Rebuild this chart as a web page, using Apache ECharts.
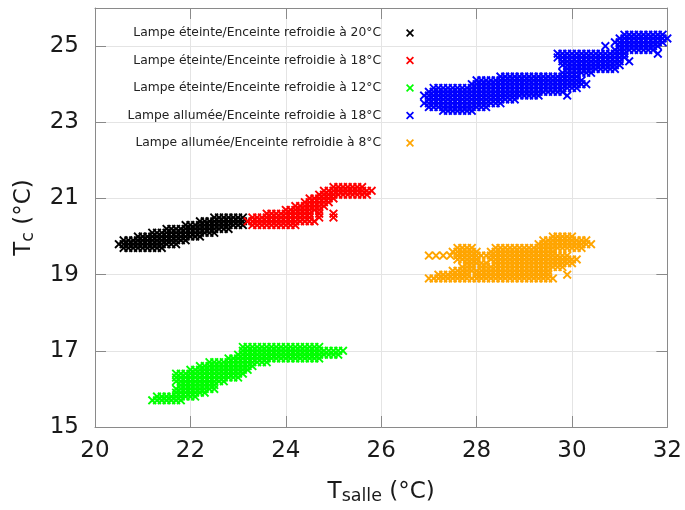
<!DOCTYPE html>
<html>
<head>
<meta charset="utf-8">
<script src="https://cdn.jsdelivr.net/npm/echarts@6/dist/echarts.min.js"></script>
<style>html,body{margin:0;padding:0;background:#fff}#c{width:685px;height:510px}</style>
</head>
<body>
<div id="c"></div>
<script>
// ---------- data ----------
const seriesNames = [
  'Lampe éteinte/Enceinte refroidie à 20°C',
  'Lampe éteinte/Enceinte refroidie à 18°C',
  'Lampe éteinte/Enceinte refroidie à 12°C',
  'Lampe allumée/Enceinte refroidie à 18°C',
  'Lampe allumée/Enceinte refroidie à 8°C'
];
const seriesColors = ['#000000', '#ff0000', '#00ff00', '#0000ff', '#ffa500'];

const xTickLabels = ['20', '22', '24', '26', '28', '30', '32'];
const yTickLabels = ['15', '17', '19', '21', '23', '25'];
const xRange = [20, 32];
const yRange = [15, 26];

// rows: [Tc, [Tsalle values]]
const black20 = [
  [19.7, [20.6,20.7,20.8,20.9,21.0,21.1,21.2,21.3,21.4]],
  [19.8, [20.5,20.6,20.7,20.8,20.9,21.0,21.1,21.2,21.3,21.4,21.5,21.6,21.7]],
  [19.9, [20.6,20.7,20.8,20.9,21.0,21.1,21.2,21.3,21.4,21.5,21.6,21.7,21.8,21.9]],
  [20.0, [20.9,21.0,21.1,21.2,21.3,21.4,21.5,21.6,21.7,21.8,21.9,22.0,22.1,22.2]],
  [20.1, [21.2,21.3,21.4,21.5,21.6,21.7,21.8,21.9,22.0,22.1,22.2,22.3,22.4,22.5]],
  [20.2, [21.5,21.6,21.7,21.8,21.9,22.0,22.1,22.2,22.3,22.4,22.5,22.6,22.7,22.8]],
  [20.3, [21.9,22.0,22.1,22.2,22.3,22.4,22.5,22.6,22.7,22.8,22.9,23.0,23.1]],
  [20.4, [22.2,22.3,22.4,22.5,22.6,22.7,22.8,22.9,23.0,23.1,23.2]],
  [20.5, [22.5,22.6,22.7,22.8,22.9,23.0,23.1]]
];
const red18 = [
  [20.3, [23.3,23.4,23.5,23.6,23.7,23.8,23.9,24.0,24.1,24.2]],
  [20.4, [23.2,23.3,23.4,23.5,23.6,23.7,23.8,23.9,24.0,24.1,24.2,24.3,24.4,24.5,24.6]],
  [20.5, [23.3,23.4,23.5,23.6,23.7,23.8,23.9,24.0,24.1,24.2,24.3,24.4,24.5,24.7,25.0]],
  [20.6, [23.6,23.7,23.8,23.9,24.0,24.1,24.2,24.3,24.4,24.5,24.7,25.0]],
  [20.7, [24.0,24.1,24.2,24.3,24.4,24.5,24.6,24.7]],
  [20.8, [24.2,24.3,24.4,24.5,24.6,24.7,24.8]],
  [20.9, [24.4,24.5,24.6,24.7,24.8,24.9]],
  [21.0, [24.5,24.6,24.7,24.8,24.9,25.0]],
  [21.1, [24.7,24.8,24.9,25.0,25.1,25.2,25.3,25.4,25.5,25.6,25.7]],
  [21.2, [24.8,24.9,25.0,25.1,25.2,25.3,25.4,25.5,25.6,25.7,25.8]],
  [21.3, [25.0,25.1,25.2,25.3,25.4,25.5,25.6]]
];
const green12 = [
  [15.7, [21.2,21.3,21.4,21.5,21.6,21.7,21.8]],
  [15.8, [21.3,21.4,21.5,21.6,21.7,21.8,21.9,22.0,22.1]],
  [15.9, [21.7,21.8,21.9,22.0,22.1,22.2,22.3]],
  [16.0, [21.7,21.8,21.9,22.0,22.1,22.2,22.3,22.4,22.5]],
  [16.1, [21.8,21.9,22.0,22.1,22.2,22.3,22.4,22.5]],
  [16.2, [21.7,21.8,21.9,22.0,22.1,22.2,22.3,22.4,22.5,22.6,22.7]],
  [16.3, [21.7,21.8,21.9,22.0,22.1,22.2,22.3,22.4,22.5,22.6,22.7,22.8,22.9,23.0]],
  [16.4, [21.7,21.8,21.9,22.0,22.1,22.2,22.3,22.4,22.5,22.6,22.7,22.8,22.9,23.0,23.1]],
  [16.5, [22.0,22.1,22.2,22.3,22.4,22.5,22.6,22.7,22.8,22.9,23.0,23.1,23.2]],
  [16.6, [22.2,22.3,22.4,22.5,22.6,22.7,22.8,22.9,23.0,23.1,23.2,23.3]],
  [16.7, [22.4,22.5,22.6,22.7,22.8,22.9,23.0,23.1,23.2,23.3,23.4,23.5,23.6]],
  [16.8, [22.8,22.9,23.0,23.1,23.2,23.3,23.4,23.5,23.6,23.7,23.8,23.9,24.0,24.1,24.2,24.3,24.4,24.5,24.6,24.7]],
  [16.9, [23.0,23.1,23.2,23.3,23.4,23.5,23.6,23.7,23.8,23.9,24.0,24.1,24.2,24.3,24.4,24.5,24.6,24.7,24.8,24.9,25.0,25.1]],
  [17.0, [23.1,23.2,23.3,23.4,23.5,23.6,23.7,23.8,23.9,24.0,24.1,24.2,24.3,24.4,24.5,24.6,24.7,24.8,24.9,25.0,25.1,25.2]],
  [17.1, [23.1,23.2,23.3,23.4,23.5,23.6,23.7,23.8,23.9,24.0,24.1,24.2,24.3,24.4,24.5,24.6,24.7]]
];
const blue18 = [
  [23.3, [27.3,27.4,27.5,27.6,27.7,27.8,27.9]],
  [23.4, [27.0,27.1,27.2,27.3,27.4,27.5,27.6,27.7,27.8,27.9,28.0,28.1,28.2]],
  [23.5, [26.9,27.0,27.1,27.2,27.3,27.4,27.5,27.6,27.7,27.8,27.9,28.0,28.1,28.2,28.3,28.4,28.5]],
  [23.6, [27.0,27.1,27.2,27.3,27.4,27.5,27.6,27.7,27.8,27.9,28.0,28.1,28.2,28.3,28.4,28.5,28.6,28.7,28.8]],
  [23.7, [26.9,27.0,27.1,27.2,27.3,27.4,27.5,27.6,27.7,27.8,27.9,28.0,28.1,28.2,28.3,28.4,28.5,28.6,28.7,28.8,28.9,29.0,29.1,29.2,29.3,29.9]],
  [23.8, [27.0,27.1,27.2,27.3,27.4,27.5,27.6,27.7,27.8,27.9,28.0,28.1,28.2,28.3,28.4,28.5,28.6,28.7,28.8,28.9,29.0,29.1,29.2,29.3,29.4,29.5,29.6,29.7,29.8]],
  [23.9, [27.1,27.2,27.3,27.4,27.5,27.6,27.7,27.8,27.9,28.0,28.1,28.2,28.3,28.4,28.5,28.6,28.7,28.8,28.9,29.0,29.1,29.2,29.3,29.4,29.5,29.6,29.7,29.8,29.9,30.0,30.1]],
  [24.0, [27.9,28.0,28.1,28.2,28.3,28.4,28.5,28.6,28.7,28.8,28.9,29.0,29.1,29.2,29.3,29.4,29.5,29.6,29.7,29.8,29.9,30.0,30.1,30.2,30.3]],
  [24.1, [28.0,28.1,28.2,28.3,28.4,28.5,28.6,28.7,28.8,28.9,29.0,29.1,29.2,29.3,29.4,29.5,29.6,29.7,29.8,29.9,30.0,30.1,30.2]],
  [24.2, [28.5,28.6,28.7,28.8,28.9,29.0,29.1,29.2,29.3,29.4,29.5,29.6,29.7,29.8,29.9,30.0,30.1]],
  [24.3, [29.8,29.9,30.0,30.1,30.2,30.3,30.4]],
  [24.4, [29.9,30.0,30.1,30.2,30.3,30.4,30.5,30.6,30.7,30.8,30.9]],
  [24.5, [29.8,29.9,30.0,30.1,30.2,30.3,30.4,30.5,30.6,30.7,30.8,30.9,31.0]],
  [24.6, [29.8,29.9,30.0,30.1,30.2,30.3,30.4,30.5,30.6,30.7,30.8,30.9,31.0,31.2]],
  [24.7, [29.7,29.8,29.9,30.0,30.1,30.2,30.3,30.4,30.5,30.6,30.7,30.8,30.9,31.0,31.1]],
  [24.8, [29.7,29.8,29.9,30.0,30.1,30.2,30.3,30.4,30.5,30.6,30.7,30.8,30.9,31.0,31.1,31.8]],
  [24.9, [30.9,31.0,31.1,31.2,31.3,31.4,31.5,31.6,31.7]],
  [25.0, [30.7,31.0,31.1,31.2,31.3,31.4,31.5,31.6,31.7,31.8]],
  [25.1, [30.9,31.0,31.1,31.2,31.3,31.4,31.5,31.6,31.7,31.8,31.9]],
  [25.2, [31.0,31.1,31.2,31.3,31.4,31.5,31.6,31.7,31.8,31.9,32.0]],
  [25.3, [31.1,31.2,31.3,31.4,31.5,31.6,31.7,31.8,31.9]]
];
const orange8 = [
  [18.9, [27.0,27.1,27.2,27.3,27.4,27.5,27.6,27.7,27.8,27.9,28.0,28.1,28.2,28.3,28.4,28.5,28.6,28.7,28.8,28.9,29.0,29.1,29.2,29.3,29.4,29.5,29.6]],
  [19.0, [27.2,27.3,27.4,27.5,27.6,27.7,27.8,28.0,28.1,28.2,28.3,28.4,28.5,28.6,28.7,28.8,28.9,29.0,29.1,29.2,29.3,29.4,29.5,29.9]],
  [19.1, [27.5,27.6,27.7,27.8,27.9,28.0,28.1,28.2,28.3,28.4,28.5,28.6,28.7,28.8,28.9,29.0,29.1,29.2,29.3,29.4,29.5]],
  [19.2, [27.7,27.8,27.9,28.1,28.2,28.3,28.4,28.5,28.6,28.7,28.8,28.9,29.0,29.1,29.2,29.3,29.4,29.5,29.6,29.7,29.8]],
  [19.3, [27.8,27.9,28.0,28.1,28.2,28.4,28.5,28.6,28.7,28.8,28.9,29.0,29.1,29.2,29.3,29.4,29.5,29.6,29.7,29.8,29.9,30.0]],
  [19.4, [27.6,27.7,27.8,27.9,28.0,28.3,28.4,28.5,28.6,28.7,28.8,28.9,29.0,29.1,29.2,29.3,29.4,29.5,29.6,29.7,29.8,29.9,30.0,30.1]],
  [19.5, [27.0,27.15,27.3,27.45,27.6,27.7,27.8,27.9,28.0,28.1,28.2,28.3,28.4,28.5,28.6,28.7,28.8,28.9,29.0,29.1,29.2,29.3,29.4,29.5,29.6,29.7,29.8,29.9]],
  [19.6, [27.5,27.6,27.7,27.8,27.9,28.0,28.3,28.4,28.5,28.6,28.7,28.8,28.9,29.0,29.1,29.2,29.3,29.4,29.5,29.6]],
  [19.7, [27.6,27.7,27.8,27.9,28.4,28.5,28.6,28.7,28.8,28.9,29.0,29.1,29.2,29.3,29.4,29.5,29.6,29.7,29.8,29.9,30.0,30.1,30.2]],
  [19.8, [29.3,29.4,29.5,29.6,29.7,29.8,29.9,30.0,30.1,30.2,30.3,30.4]],
  [19.9, [29.4,29.5,29.6,29.7,29.8,29.9,30.0,30.1,30.2,30.3]],
  [20.0, [29.6,29.7,29.8,29.9,30.0]]
];
const seriesRows = [black20, red18, green12, blue18, orange8];

// ---------- chart ----------
const FONT = 'DejaVu Sans';
const crossPath = 'path://M0,1.5L1.5,0L5,3.5L8.5,0L10,1.5L6.5,5L10,8.5L8.5,10L5,6.5L1.5,10L0,8.5L3.5,5Z';
const toPoints = rows => rows.flatMap(([y, xs]) => xs.map(x => [x, y]));

const axisLineStyle = { show: true, lineStyle: { color: '#8a8a8a', width: 1 } };
const tickStyle = { show: true, inside: true, length: 11, lineStyle: { color: '#8a8a8a', width: 1 } };
const gridLine = { show: true, lineStyle: { color: '#e4e4e4', width: 1 } };
const labelFont = { fontFamily: FONT, fontSize: 23, color: '#1a1a1a' };
const nameRich = {
  t: { fontFamily: FONT, fontSize: 23, color: '#1a1a1a', lineHeight: 26 },
  s: { fontFamily: FONT, fontSize: 17.5, color: '#1a1a1a', lineHeight: 14, verticalAlign: 'bottom' }
};

const chart = echarts.init(document.getElementById('c'), null, { renderer: 'canvas' });
chart.setOption({
  animation: false,
  backgroundColor: '#ffffff',
  grid: { left: 95, right: 17, top: 8, bottom: 83, containLabel: false },
  legend: {
    orient: 'vertical',
    right: 271,
    top: 27,
    padding: 0,
    itemGap: 15.5,
    itemWidth: 8,
    itemHeight: 8,
    align: 'right',
    selectedMode: false,
    icon: crossPath,
    data: seriesNames,
    formatter: name => '{a|' + name + '}',
    textStyle: {
      rich: { a: { fontFamily: FONT, fontSize: 12.3, color: '#222', lineHeight: 13, padding: [0, 20, 0, 0] } }
    }
  },
  xAxis: [
    {
      type: 'value', min: xRange[0], max: xRange[1], interval: 2,
      axisLine: axisLineStyle, axisTick: tickStyle, splitLine: gridLine,
      axisLabel: Object.assign({ margin: 13, formatter: v => xTickLabels.includes(String(v)) ? String(v) : '' }, labelFont),
      name: '{t|T}{s|salle}{t| (°C)}',
      nameLocation: 'middle',
      nameGap: 52,
      nameTextStyle: { rich: nameRich }
    },
    {
      type: 'value', position: 'top', min: xRange[0], max: xRange[1], interval: 2,
      axisLine: axisLineStyle, axisTick: tickStyle, splitLine: { show: false },
      axisLabel: { show: false }
    }
  ],
  yAxis: [
    {
      type: 'value', min: yRange[0], max: yRange[1], interval: 2,
      axisLine: axisLineStyle, axisTick: tickStyle, splitLine: gridLine,
      axisLabel: Object.assign({ margin: 16, formatter: v => yTickLabels.includes(String(v)) ? String(v) : '' }, labelFont),
      name: '{t|T}{s|c}{t| (°C)}',
      nameLocation: 'middle',
      nameGap: 58,
      nameRotate: 90,
      nameTextStyle: { rich: nameRich }
    },
    {
      type: 'value', position: 'right', min: yRange[0], max: yRange[1], interval: 2,
      axisLine: axisLineStyle, axisTick: tickStyle, splitLine: { show: false },
      axisLabel: { show: false }
    }
  ],
  series: seriesNames.map((name, i) => ({
    name: name,
    type: 'scatter',
    xAxisIndex: 0,
    yAxisIndex: 0,
    symbol: crossPath,
    symbolSize: 9,
    itemStyle: { color: seriesColors[i], opacity: 1 },
    emphasis: { disabled: true },
    data: toPoints(seriesRows[i])
  }))
});
</script>
</body>
</html>
